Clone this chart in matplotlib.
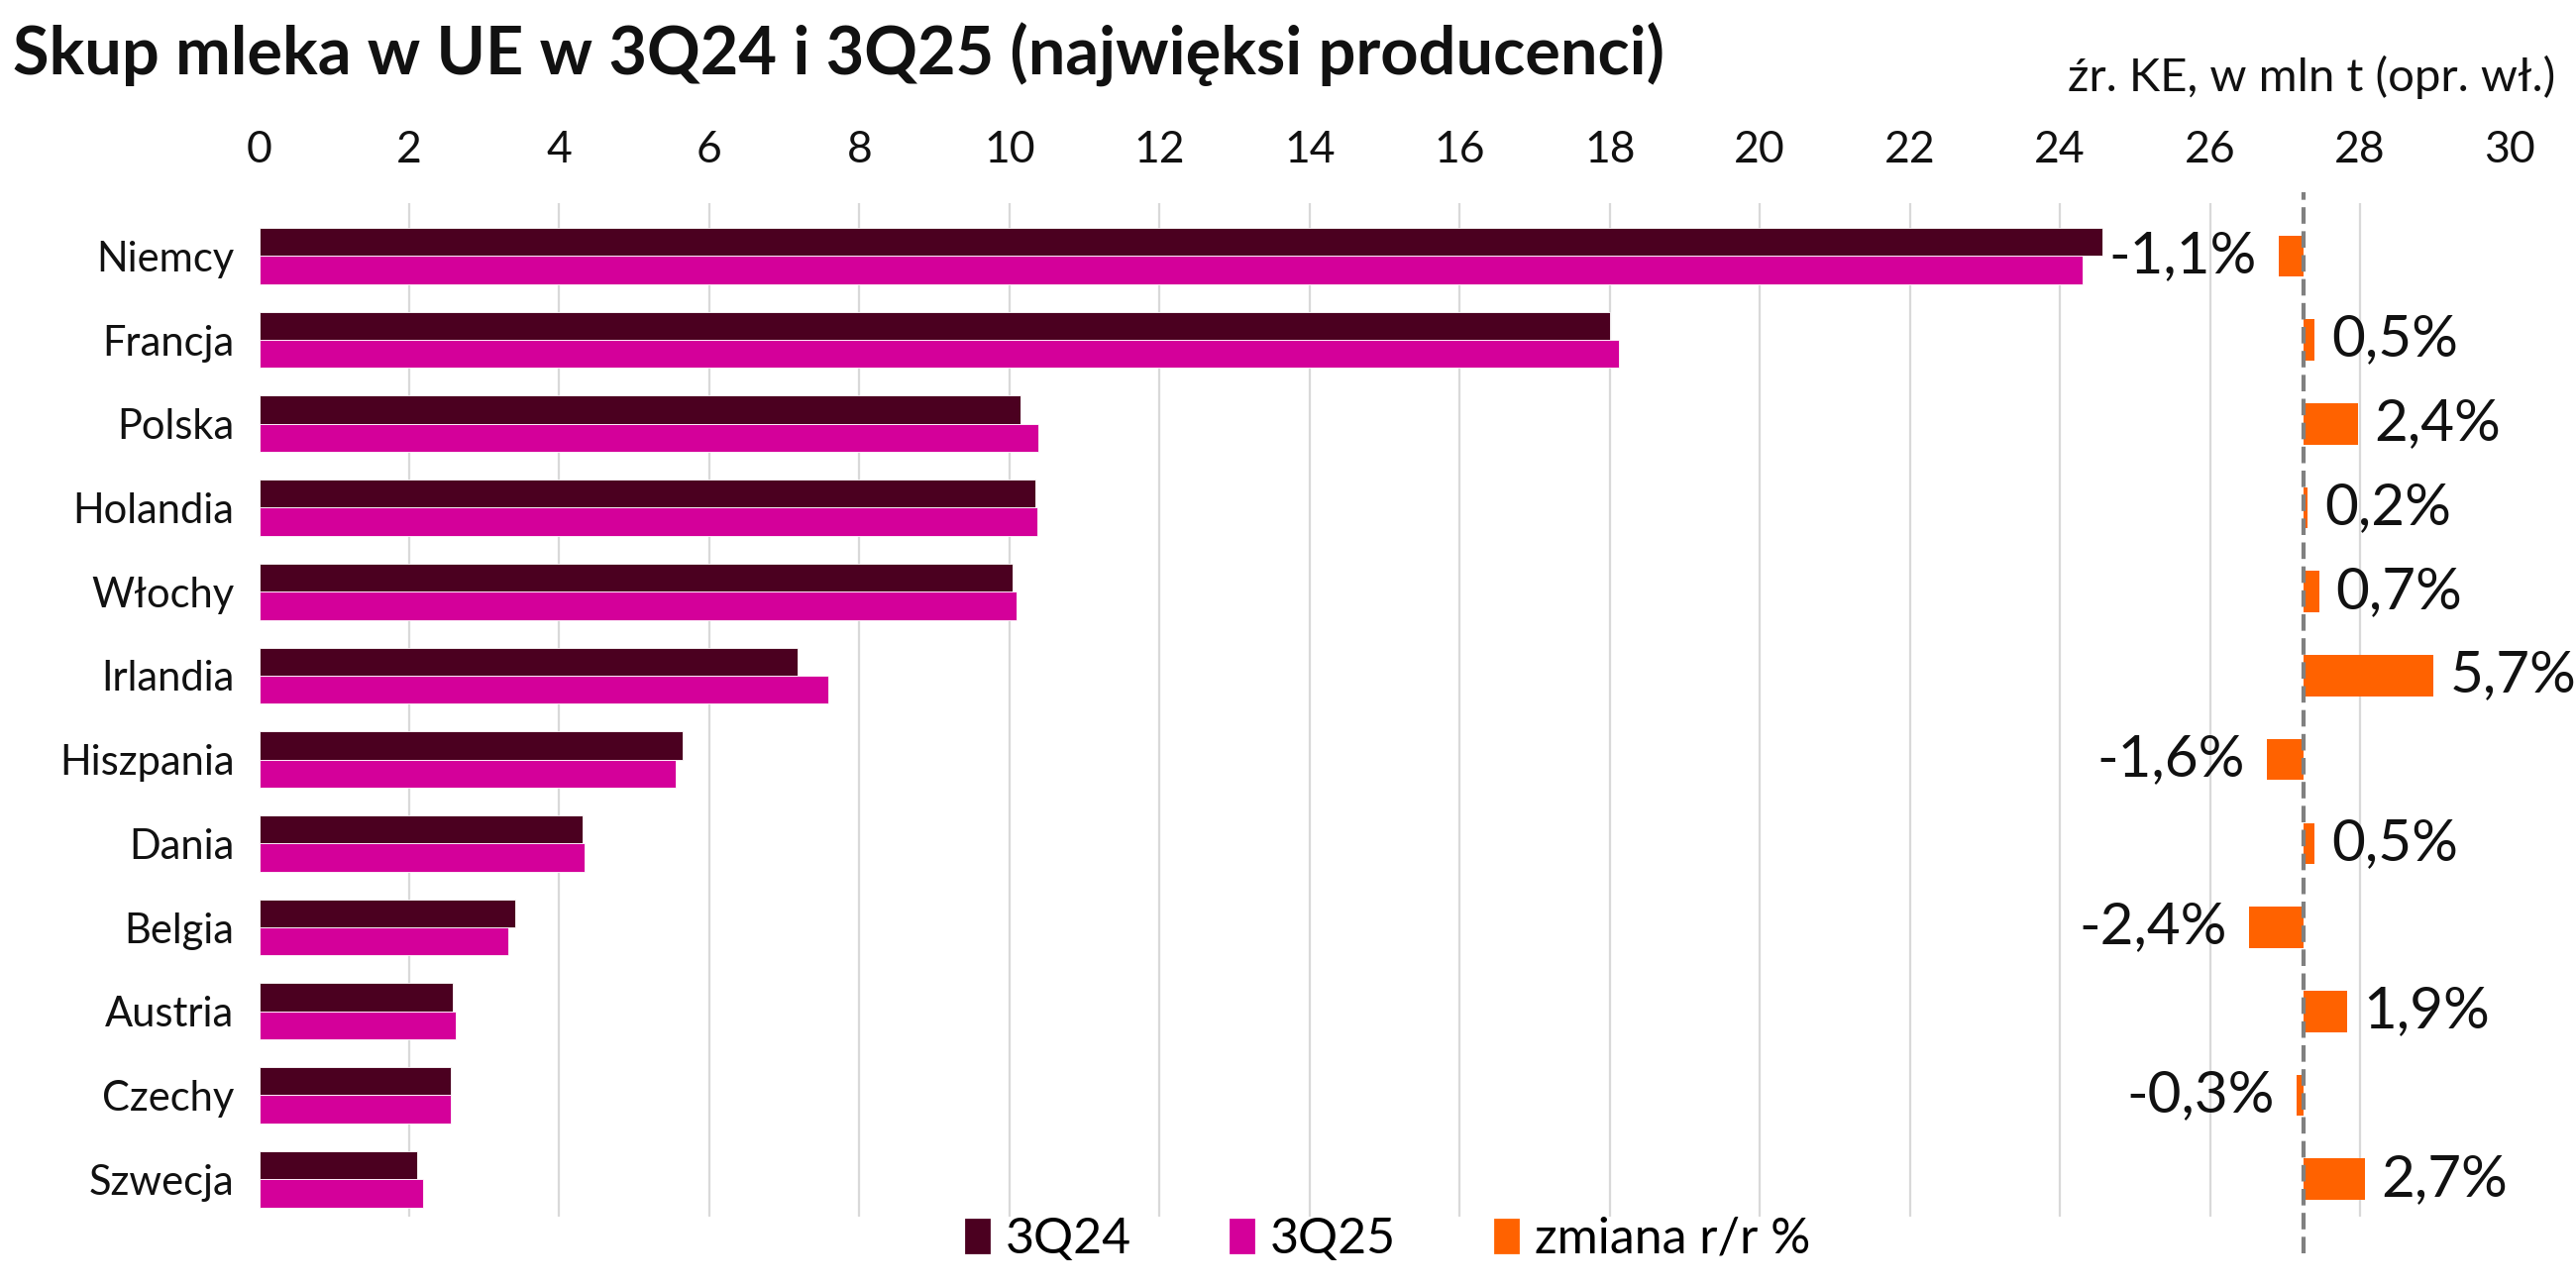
import matplotlib
matplotlib.use("Agg")
import matplotlib.pyplot as plt
from matplotlib.patches import Patch
import numpy as np

plt.rcParams['font.family'] = ['Lato', 'DejaVu Sans']

countries = ["Niemcy", "Francja", "Polska", "Holandia", "Włochy", "Irlandia",
             "Hiszpania", "Dania", "Belgia", "Austria", "Czechy", "Szwecja"]
q24 = [24.57, 18.00, 10.15, 10.35, 10.04, 7.18, 5.64, 4.31, 3.41, 2.58, 2.55, 2.11]
q25 = [24.30, 18.12, 10.39, 10.37, 10.10, 7.59, 5.55, 4.34, 3.32, 2.62, 2.55, 2.18]
change = [-1.1, 0.5, 2.4, 0.2, 0.7, 5.7, -1.6, 0.5, -2.4, 1.9, -0.3, 2.7]

c24 = "#4B0020"
c25 = "#D4009A"
corange = "#FF6200"

fig = plt.figure(figsize=(13, 6.495), dpi=200)
ax = fig.add_axes([0.1006, 0.0544, 0.8738, 0.7878])
ax2 = ax.twiny()

y = np.arange(len(countries))
h = 0.335
ax.barh(y - h / 2, q24, height=h, color=c24, edgecolor="white", linewidth=0.3, zorder=3)
ax.barh(y + h / 2, q25, height=h, color=c25, edgecolor="white", linewidth=0.3, zorder=3)

ax.set_xlim(0, 30)
ax.set_ylim(11.45, -0.63)
ax.set_xticks(range(0, 31, 2))
ax.xaxis.tick_top()
ax.tick_params(axis='x', length=0, labelsize=16, pad=12, colors="#111111")
ax.set_yticks(y)
ax.set_yticklabels(countries)
ax.tick_params(axis='y', length=0, labelsize=15, pad=9, colors="#111111")
ax.grid(axis='x', color="#d9d9d9", linewidth=0.8, zorder=0)
gl = ax.get_xgridlines()
gl[0].set_visible(False)
gl[-1].set_visible(False)
for s in ax.spines.values():
    s.set_visible(False)

# zmiana r/r na osobnej osi
ax2.set_xlim(-89.7, 9.07)
ax2.set_ylim(ax.get_ylim())
ax2.set_xticks([])
for s in ax2.spines.values():
    s.set_visible(False)
ax2.barh(y, change, height=0.49, color=corange, zorder=3)
ax2.axvline(0, ymin=-0.036, ymax=1.011, color="#808080", linewidth=1.5,
            linestyle=(0, (4, 1.8)), clip_on=False, zorder=4)
for yi, v in zip(y, change):
    txt = ("%.1f" % v).replace(".", ",") + "%"
    if v >= 0:
        ax2.annotate(txt, (v, yi), xytext=(6, 0), textcoords="offset points",
                     ha="left", va="center", fontsize=21, color="#111111")
    else:
        ax2.annotate(txt, (v, yi), xytext=(-8, 0), textcoords="offset points",
                     ha="right", va="center", fontsize=21, color="#111111")

fig.text(0.005, 0.957, "Skup mleka w UE w 3Q24 i 3Q25 (najwięksi producenci)",
         fontsize=24, fontweight="bold", ha="left", va="center", color="#111111")
fig.text(0.992, 0.94, "źr. KE, w mln t (opr. wł.)", fontsize=17,
         ha="right", va="center", color="#111111")

handles = [Patch(color=c24, label="3Q24"), Patch(color=c25, label="3Q25"),
           Patch(color=corange, label="zmiana r/r %")]
fig.legend(handles=handles, loc="center", bbox_to_anchor=(0.539, 0.037), ncol=3,
           frameon=False, fontsize=18, handlelength=0.45, handleheight=0.65,
           handletextpad=0.35, columnspacing=2.0)

fig.savefig("out.png", dpi=200, facecolor="white")
